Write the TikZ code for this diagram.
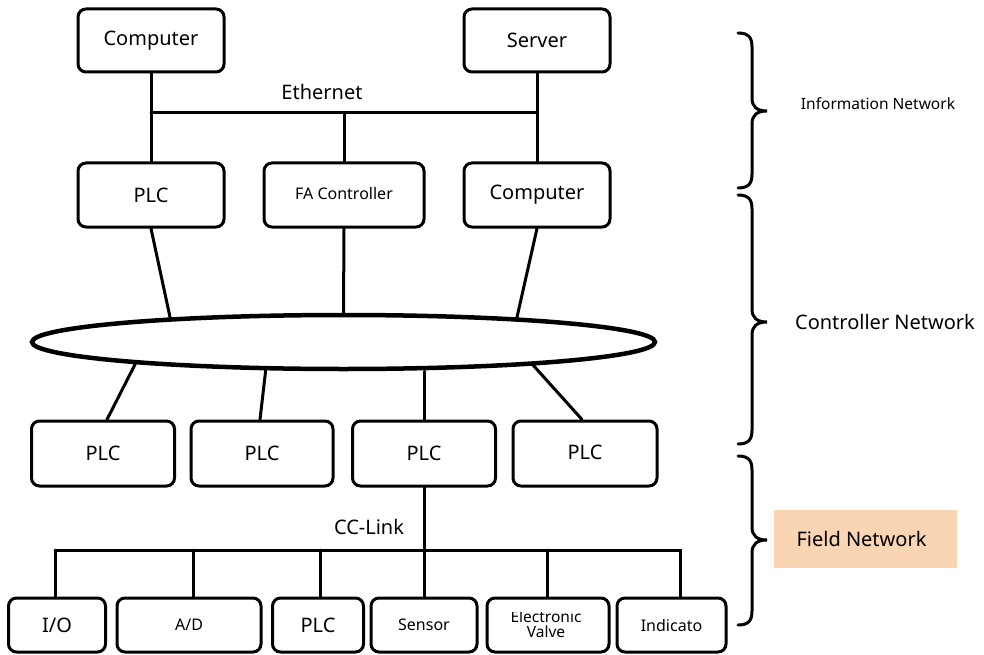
\documentclass[tikz,border=0pt]{standalone}
\usepackage{fontspec}
\setmainfont{Noto Sans}
\usetikzlibrary{shapes.geometric,calc}
\definecolor{peach}{HTML}{F9D5B4}
\begin{document}
\begin{tikzpicture}[x=1pt,y=-1pt,
  box/.style={draw, line width=3pt, rounded corners=8pt, inner sep=0pt, font=\fontsize{20}{24}\selectfont},
  sbox/.style={box, font=\fontsize{16}{18}\selectfont},
  conn/.style={line width=3pt, line cap=round},
  brace/.style={line width=3pt, line cap=round}]
\useasboundingbox (0,0) rectangle (984,655);

% row 1
\node[box, minimum width=146pt, minimum height=63pt] (c1) at (151,40.5) {Computer};
\node[box, minimum width=146pt, minimum height=63pt] (s1) at (537,40.5) {Server};
% row 2
\node[box, minimum width=146pt, minimum height=64pt] (p1) at (151,195) {PLC};
\node[sbox, minimum width=160pt, minimum height=64pt] (fa) at (344,195) {\raisebox{3pt}{FA Controller}};
\node[box, minimum width=146pt, minimum height=64pt] (c2) at (537,195) {Computer};

\coordinate (ethy) at (0,113);
\draw[conn] (c1.south) -- (p1.north);
\draw[conn] (s1.south) -- (c2.north);
\draw[conn] (c1.south |- ethy) -- (s1.south |- ethy);
\draw[conn] (fa.north) -- (fa.north |- ethy);
\node[font=\fontsize{20}{24}\selectfont] (eth) at (322,92) {Ethernet};

% ellipse
\node[draw, ellipse, line width=4.5pt, minimum width=623pt, minimum height=54pt, inner sep=0pt] (ell) at (343.5,342) {};
\draw[conn] (p1.south) -- (ell.172.26);
\draw[conn] (fa.south) -- (ell.north);
\draw[conn] (c2.south) -- (ell.8.2);

% row 3
\node[box, minimum width=143pt, minimum height=65pt] (pa) at (103,453.5) {PLC};
\node[box, minimum width=142pt, minimum height=65pt] (pb) at (262,453.5) {PLC};
\node[box, minimum width=143pt, minimum height=65pt] (pc) at (424,453.5) {PLC};
\node[box, minimum width=144pt, minimum height=65pt] (pd) at (585,453.5) {\raisebox{3pt}{PLC}};
\draw[conn] (ell.186.61) -- ([xshift=4pt]pa.north);
\draw[conn] (ell.200.46) -- ([xshift=-2pt]pb.north);
\draw[conn] (ell.south -| pc.north) -- (pc.north);
\draw[conn] (ell.353.56) -- ([xshift=-3pt]pd.north);

% field devices
\node[box, minimum width=97pt, minimum height=54pt] (io) at (57,625) {\raisebox{-3pt}{I/O}};
\node[sbox, minimum width=144pt, minimum height=54pt] (ad) at (189,625) {A/D};
\node[box, minimum width=91pt, minimum height=54pt] (pl) at (318,625) {\raisebox{-3pt}{PLC}};
\node[sbox, minimum width=106pt, minimum height=54pt] (sen) at (424,625) {Sensor};
\node[sbox, minimum width=122pt, minimum height=54pt] (ev) at (548,625) {};
\node[sbox, minimum width=109pt, minimum height=54pt] (ind) at (671.5,625) {\raisebox{-4pt}{Indicato}};
\begin{scope}
  \clip (490,612) rectangle (606,650);
  \node[align=center, font=\fontsize{15.5}{14.5}\selectfont, inner sep=0pt] (evt) at (546,624) {Electronic\\Valve};
\end{scope}

\coordinate (ccl) at (55,550);
\coordinate (ccr) at (680,550);
\draw[conn] (pc.south) -- (sen.north);
\draw[conn] (ccl) -- (ccr) -- (ccr |- ind.north);
\draw[conn] (ccl) -- (ccl |- io.north);
\draw[conn] ([xshift=4pt]ad.north |- ccl) -- ([xshift=4pt]ad.north);
\draw[conn] ([xshift=2pt]pl.north |- ccl) -- ([xshift=2pt]pl.north);
\draw[conn] ([xshift=-1pt]ev.north |- ccl) -- ([xshift=-1pt]ev.north);
\node[font=\fontsize{20}{24}\selectfont] (ccll) at (369,527) {CC-Link};

% braces
\foreach \T/\M/\B in {33/111/188, 195/322/444, 456/540/625}{
  \draw[brace] (738,\T) .. controls (749,\T) and (752,\T+5) .. (752,\T+14)
     -- (752,\M-13) .. controls (752,\M-4) and (757,\M) .. (767,\M)
     .. controls (757,\M) and (752,\M+4) .. (752,\M+13)
     -- (752,\B-14) .. controls (752,\B-5) and (749,\B) .. (738,\B);
}
\node[font=\fontsize{15.5}{18}\selectfont] (inf) at (878,104) {Information Network};
\node[font=\fontsize{20}{24}\selectfont] (ctl) at (885,322) {Controller Network};
\node[fill=peach, minimum width=183pt, minimum height=58pt, inner sep=0pt, font=\fontsize{20}{24}\selectfont] (fld) at (865.5,539) {\hspace*{-8pt}Field Network};
\end{tikzpicture}
\end{document}
